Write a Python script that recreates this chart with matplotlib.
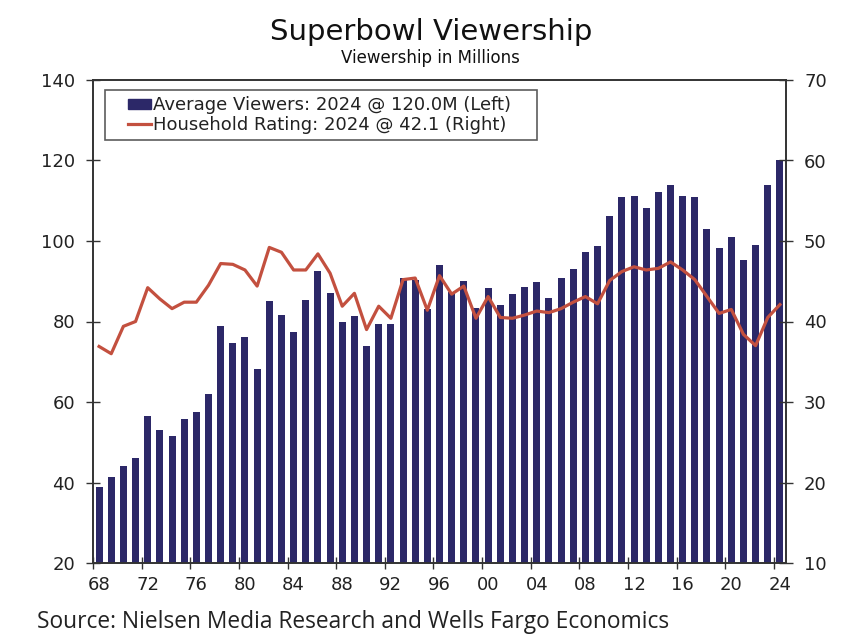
import matplotlib
matplotlib.use("Agg")
import matplotlib.pyplot as plt
import numpy as np
from matplotlib.patches import Rectangle
from matplotlib.lines import Line2D
from matplotlib.legend_handler import HandlerBase

years = list(range(1968, 2025))
viewers = [38.8, 41.4, 44.2, 46.0, 56.5, 53.1, 51.6, 55.9, 57.5, 61.9,
           78.8, 74.6, 76.1, 68.1, 85.2, 81.6, 77.5, 85.4, 92.5, 87.0,
           80.0, 81.4, 73.8, 79.4, 79.5, 90.7, 90.2, 83.2, 94.0, 87.4,
           90.0, 83.4, 88.3, 84.1, 86.8, 88.5, 89.7, 85.9, 90.7, 93.1,
           97.3, 98.8, 106.1, 111.0, 111.1, 108.1, 112.1, 114.0, 111.1, 111.0,
           103.1, 98.3, 101.0, 95.3, 99.1, 114.0, 120.0]
rating = [36.9, 36.0, 39.4, 40.0, 44.2, 42.8, 41.6, 42.4, 42.4, 44.5,
          47.2, 47.1, 46.4, 44.4, 49.2, 48.6, 46.4, 46.4, 48.4, 46.0,
          41.9, 43.5, 39.0, 41.9, 40.4, 45.2, 45.4, 41.4, 45.7, 43.4,
          44.4, 40.4, 43.1, 40.5, 40.4, 40.8, 41.3, 41.1, 41.6, 42.4,
          43.1, 42.2, 45.1, 46.2, 46.8, 46.4, 46.6, 47.4, 46.4, 45.2,
          43.1, 41.0, 41.5, 38.4, 37.0, 40.5, 42.1]
tick_years = list(range(1968, 2025, 4))
tick_labels = [f"{y % 100:02d}" for y in tick_years]

bar_color = "#2c2868"
line_color = "#c3503f"
text_color = "#222222"

fig = plt.figure(figsize=(8.48, 6.44), dpi=100)
ax = fig.add_axes([93/848, 1-563/644, (786-93)/848, (563-80)/644])
ax2 = ax.twinx()

x = np.arange(len(years))
ax.bar(x, viewers, width=0.58, color=bar_color, zorder=2)
ax2.plot(x, rating, color=line_color, lw=2.3, zorder=3)

ax.set_xlim(-0.5, len(years) - 0.5)
ax.set_ylim(20, 140)
ax.set_yticks(range(20, 141, 20))
ax2.set_ylim(10, 70)
ax2.set_yticks(range(10, 71, 10))

idx = [years.index(y) for y in tick_years]
ax.set_xticks([i - 0.5 for i in idx])
ax.set_xticklabels([])
ax.set_xticks(idx, minor=True)
ax.set_xticklabels(tick_labels, minor=True)
ax.tick_params(axis="x", which="major", direction="inout", length=8, width=1, color="#333333")
ax.tick_params(axis="x", which="minor", length=0, pad=9, labelsize=13, labelcolor=text_color)
ax.tick_params(axis="y", direction="inout", length=10, width=1, labelsize=13, labelcolor=text_color, color="#333333", pad=8)
ax2.tick_params(axis="y", direction="inout", length=10, width=1, labelsize=13, labelcolor=text_color, color="#333333", pad=8)

for a in (ax, ax2):
    for s in a.spines.values():
        s.set_color("#333333")
        s.set_linewidth(1.2)

ax.set_zorder(1)
ax2.set_zorder(2)
ax2.patch.set_visible(False)


class OffsetHandler(HandlerBase):
    def __init__(self, kind, color, frac):
        super().__init__()
        self.kind = kind
        self.color = color
        self.frac = frac

    def create_artists(self, legend, orig_handle, xdescent, ydescent, width, height, fontsize, trans):
        x0 = -xdescent + width * self.frac
        x1 = -xdescent + width
        if self.kind == "patch":
            art = Rectangle((x0, -ydescent + height * 0.1), x1 - x0, height * 0.75,
                            facecolor=self.color, edgecolor=self.color, transform=trans)
        else:
            yc = -ydescent + height * 0.45
            art = Line2D([x0, x1], [yc, yc], color=self.color, lw=2.3, transform=trans)
        return [art]


h1 = Rectangle((0, 0), 1, 1)
h2 = Line2D([0], [0])
labels = ["Average Viewers: 2024 @ 120.0M (Left)",
          "Household Rating: 2024 @ 42.1 (Right)"]
leg = ax2.legend([h1, h2], labels, loc="upper left", bbox_to_anchor=(0.017, 0.98),
                 handler_map={h1: OffsetHandler("patch", bar_color, 0.42),
                              h2: OffsetHandler("line", line_color, 0.42)},
                 fontsize=13, frameon=True, fancybox=False, edgecolor="#333333",
                 handlelength=2.2, handletextpad=0.1, borderpad=0.35, labelspacing=0.1,
                 borderaxespad=0)
frame = leg.get_frame()
frame.set_linewidth(1.2)
for t in leg.get_texts():
    t.set_color(text_color)

# extra right padding in the legend frame, as in the reference
_extra_px = 20
_orig_set_bounds = frame.set_bounds


def _wide_bounds(*args):
    if len(args) == 1:
        x0, y0, w, h = args[0]
    else:
        x0, y0, w, h = args
    _orig_set_bounds(x0, y0, w + _extra_px, h)


frame.set_bounds = _wide_bounds

fig.text(0.508, 1-32/644, "Superbowl Viewership", ha="center", va="center",
         fontsize=21, color="#111111")
fig.text(0.508, 1-58/644, "Viewership in Millions", ha="center", va="center",
         fontsize=12, color="#111111")
fig.text(37/848, 1-622/644, "Source: Nielsen Media Research and Wells Fargo Economics",
         ha="left", va="center", fontsize=16.4, color="#222222", family=["Open Sans", "DejaVu Sans"])

fig.savefig("out.png", dpi=100)
